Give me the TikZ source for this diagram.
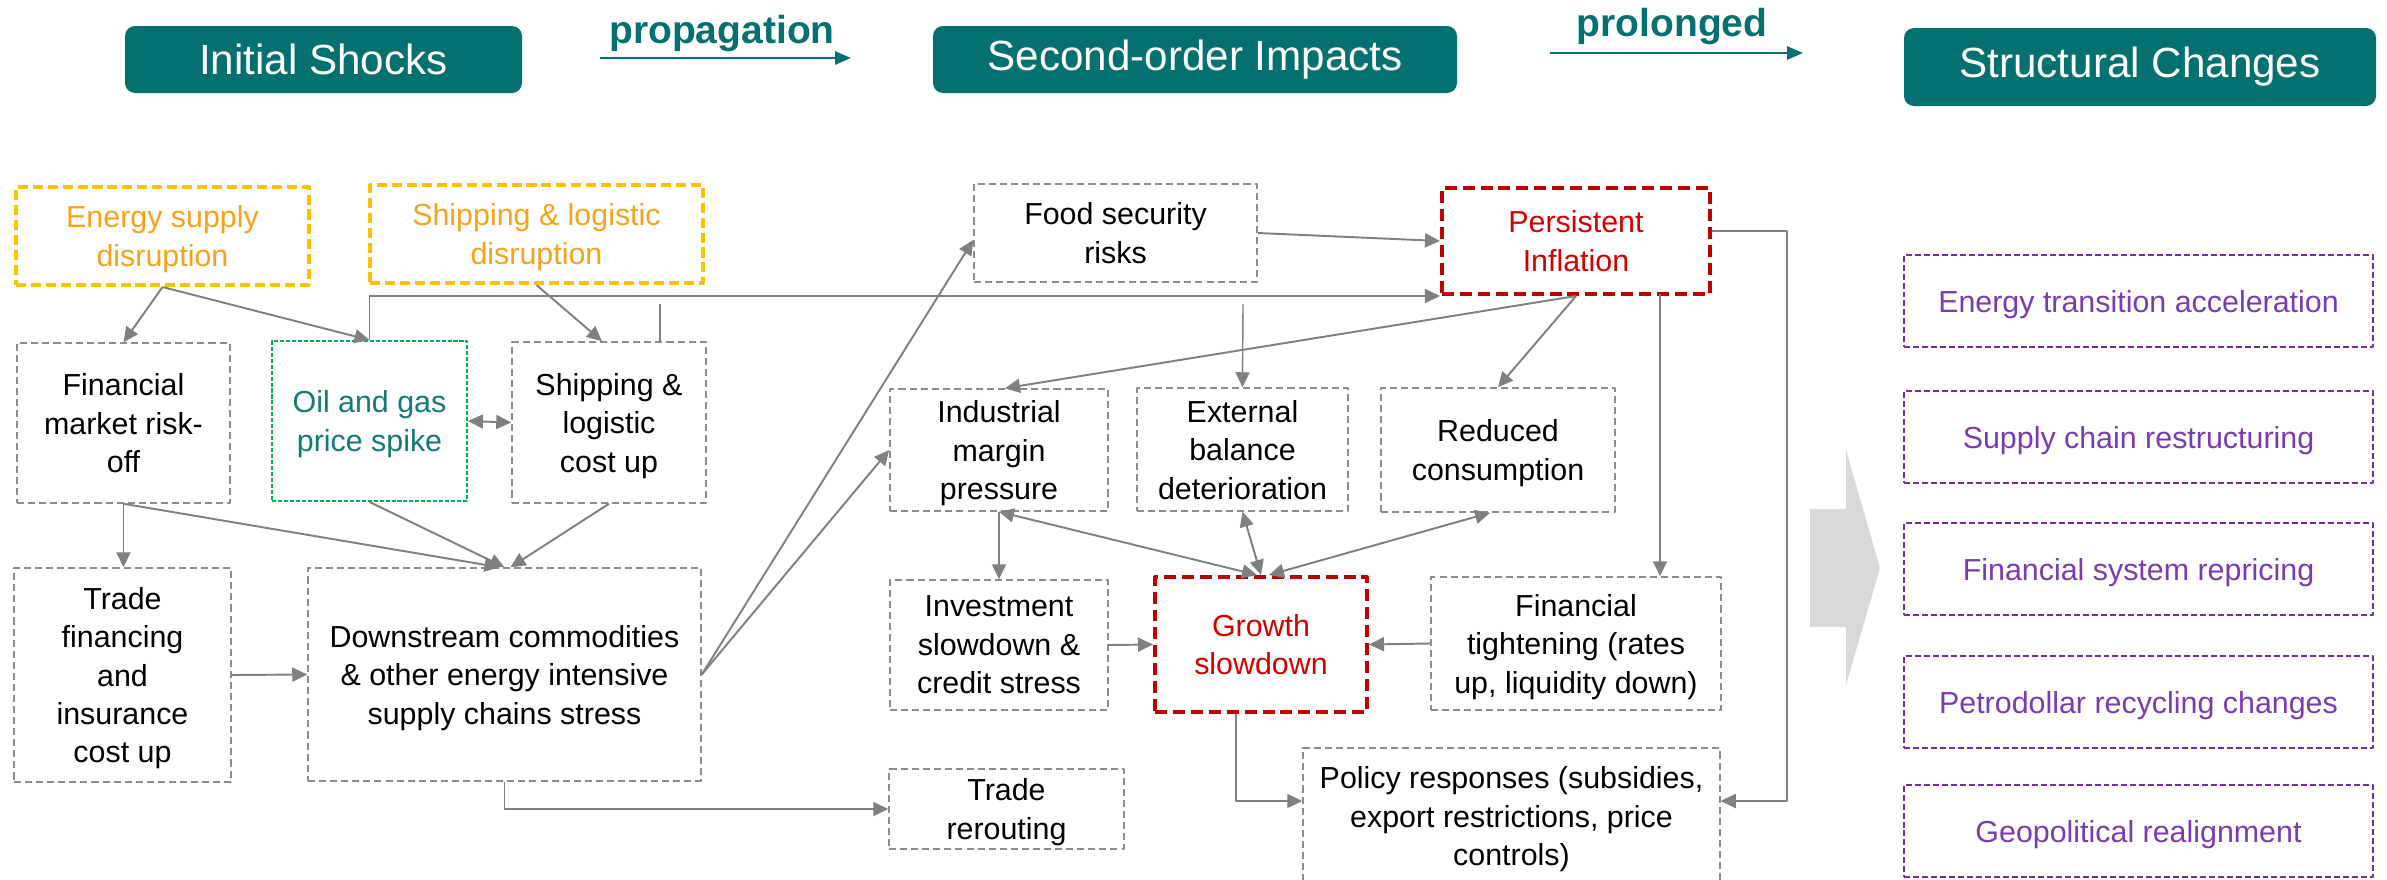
\documentclass[tikz,border=0pt]{standalone}
\usepackage{fontspec}
\setmainfont{Liberation Sans}
\usetikzlibrary{arrows.meta}
\definecolor{stageteal}{HTML}{047070}
\definecolor{boxgray}{HTML}{8C8C8C}
\definecolor{linkgray}{HTML}{808080}
\definecolor{shockyellow}{HTML}{FFC000}
\definecolor{shockorange}{HTML}{F7A21B}
\definecolor{oilgreen}{HTML}{00B050}
\definecolor{oilteal}{HTML}{137A78}
\definecolor{keyred}{HTML}{C00000}
\definecolor{keyredtext}{HTML}{D40000}
\definecolor{changepurple}{HTML}{7030A0}
\definecolor{changetext}{HTML}{7B3BB0}
\definecolor{bigarrow}{HTML}{D9D9D9}
\newcommand\boxfont{\fontsize{17.3}{21.9}\selectfont}
\newcommand\headfont{\fontsize{24}{28}\selectfont}
\newcommand\flowfont{\fontsize{22.2}{24}\selectfont\bfseries}
\begin{document}
\begin{tikzpicture}[x=0.2mm, y=-0.2mm, >={Triangle[length=3mm,width=2.8mm]}, line join=round,
	box/.style={draw=boxgray, line width=0.85pt, dash pattern=on 4pt off 2.3pt, align=center, inner sep=0pt, font=\boxfont, text depth=-1.3pt},
	shock/.style={box, draw=shockyellow, line width=2.3pt, dash pattern=on 5.7pt off 2.8pt, text=shockorange},
	key/.style={box, draw=keyred, line width=2.3pt, dash pattern=on 6.8pt off 3.4pt, text=keyredtext},
	oilbox/.style={box, draw=oilgreen, line width=1.1pt, dash pattern=on 2.3pt off 1.1pt, text=oilteal},
	change/.style={box, draw=changepurple, line width=1.1pt, dash pattern=on 3.4pt off 1.7pt, text=changetext},
	head/.style={fill=stageteal, rounded corners=2mm, text=white, font=\headfont, inner sep=0pt},
	link/.style={draw=linkgray, line width=1.1pt, ->},
	flow/.style={draw=stageteal, line width=1.6pt, -{Triangle[length=3.2mm,width=2.6mm]}},
	sz/.style 2 args={minimum width=#1*0.2mm, minimum height=#2*0.2mm}]
	\useasboundingbox (0,0) rectangle (2387,880);

	% stage headers
	\node[head, sz={397}{67}] (hshock) at (323.5,59.5) {Initial Shocks};
	\node[head, sz={524}{67}] (himpact) at (1195,59.5) {Second-order Impacts};
	\node[head, sz={472}{78}] (hchange) at (2140,67) {Structural Changes};
	\node[anchor=base, text=stageteal, font=\flowfont] (lprop) at (722,43) {propagation};
	\node[anchor=base, text=stageteal, font=\flowfont] (lprol) at (1672,37) {prolonged};
	\coordinate (p0) at (600,58); \coordinate (p1) at (851,58);
	\coordinate (q0) at (1550,53); \coordinate (q1) at (1803,53);
	\draw[flow] (p0) -- (p1);
	\draw[flow] (q0) -- (q1);

	% initial shocks
	\node[shock, sz={293}{98}] (esd) at (162.5,236) {Energy supply\\disruption};
	\node[shock, sz={333}{98}] (sld) at (536.5,234) {Shipping \& logistic\\disruption};
	\node[box, sz={213}{160}] (fin) at (123.5,423) {Financial\\market risk-\\off};
	\node[oilbox, sz={195}{160}] (oil) at (369.5,421) {Oil and gas\\price spike};
	\node[box, sz={194}{161}] (shc) at (609,422.5) {Shipping \&\\logistic\\cost up};
	\node[box, sz={217}{214}] (trf) at (122.5,675) {Trade\\financing\\and\\insurance\\cost up};
	\node[box, sz={393}{213}] (dsc) at (504.5,674.5) {Downstream commodities\\\& other energy intensive\\supply chains stress};
	\node[box, sz={235}{80}] (rer) at (1006.5,809) {Trade\\rerouting};

	% second-order impacts
	\node[box, sz={283}{98}] (food) at (1115.5,233) {Food security\\risks};
	\node[key, sz={268}{106}] (infl) at (1576,241) {Persistent\\Inflation};
	\node[box, sz={218}{122}] (ind) at (999,450) {Industrial\\margin\\pressure};
	\node[box, sz={211}{123}] (ext) at (1242.5,449.5) {External\\balance\\deterioration};
	\node[box, sz={234}{124}] (red) at (1498,450) {Reduced\\consumption};
	\node[box, sz={218}{130}] (inv) at (999,645) {Investment\\slowdown \&\\credit stress};
	\node[key, sz={212}{135}] (gro) at (1261,644.5) {Growth\\slowdown};
	\node[box, sz={290}{133}] (tig) at (1576,643.5) {Financial\\tightening (rates\\up, liquidity down)};
	\node[box, sz={417}{136}] (pol) at (1511.5,816) {Policy responses (subsidies,\\export restrictions, price\\controls)};

	% structural changes
	\foreach \y/\t [count=\i] in {301/Energy transition acceleration, 437/Supply chain restructuring, 569/Financial system repricing, 702/Petrodollar recycling changes, 831/Geopolitical realignment}
		\node[change, sz={469}{92}] (sc\i) at (2138.5,\y) {\t};
	\fill[bigarrow] (1810,509) -- (1846,509) -- (1846,450) -- (1880,568) -- (1846,685) -- (1846,627) -- (1810,627) -- cycle;

	% links
	\coordinate (s1) at (660,304);
	\coordinate (s2) at (1243,304);
	\coordinate (t1) at (1660,294);
	\draw[link] (esd.south) -- (fin.north);
	\draw[link] (esd.south) -- (oil.north);
	\draw[link] (sld.south) -- ([xshift=-1.4mm]shc.north);
	\draw[link] (oil.north) |- (infl.south west);
	\draw[draw=linkgray, line width=0.6pt] (s1) -- (s1 |- shc.north);
	\draw[link, line width=0.8pt] (s2) -- (ext.north);
	\draw[link] (fin.south) -- (fin.south |- trf.north);
	\draw[link] (fin.south) -- ([xshift=-1mm]dsc.north);
	\draw[link] (oil.south) -- (dsc.north);
	\draw[link] (shc.south) -- ([xshift=1.2mm]dsc.north);
	\draw[link, <->] (oil.east) -- (shc.west);
	\draw[link] (trf.east) -- (dsc.west);
	\draw[link] (dsc.east) -- ([yshift=-1.4mm]food.west);
	\draw[link] (dsc.east) -- (ind.west);
	\draw[link] (dsc.south) |- (rer.west);
	\draw[link] (food.east) -- (infl.west);
	\draw[link] (infl.south) -- ([xshift=1.2mm]ind.north);
	\draw[link] (infl.south) -- (red.north);
	\draw[link] (t1) -- (t1 |- tig.north);
	\draw[link] (ind.south) -- (inv.north);
	\draw[link, <->] (ind.south) -- ([xshift=-0.8mm]gro.north);
	\draw[link, <->] (ext.south) -- (gro.north);
	\draw[link, <->] ([xshift=-1.6mm]red.south) -- ([xshift=1.6mm]gro.north);
	\draw[link] (inv.east) -- (gro.west);
	\draw[link] (tig.west) -- (gro.east);
	\draw[link, line width=0.8pt] ([xshift=-5mm]gro.south) |- ([yshift=3mm]pol.west);
	\draw[link] ([yshift=2mm]infl.east) -- ++(75,0) |- ([yshift=3mm]pol.east);
\end{tikzpicture}
\end{document}
